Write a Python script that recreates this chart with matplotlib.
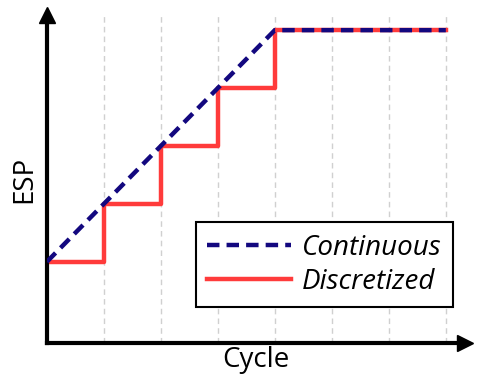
import matplotlib.pyplot as plt

# ===== DATA =====
cycles = [0, 1, 2, 3, 4, 7]
esp = [0, 1, 2, 3, 4, 4]
grid_cycles = [1, 2, 3, 4, 5, 6, 7]

plt.rcParams['font.family'] = ['Open Sans', 'DejaVu Sans']

# ===== FIGURE =====
fig = plt.figure(figsize=(4.78, 3.87), dpi=100)
ax = fig.add_axes([0.098, 0.114, 0.874, 0.847])

for gx in grid_cycles:
    ax.axvline(gx, color='#d0d0d0', lw=1, ls=(0, (4, 3)), zorder=0)

ax.plot(cycles, esp, color='#ff3b3b', lw=3.2, drawstyle='steps-post',
        label='Discretized', zorder=2)
ax.plot(cycles, esp, color='#13087f', lw=3.2, ls=(0, (2.8, 1.6)),
        label='Continuous', zorder=3)

ax.set_xlim(0, 7.33)
ax.set_ylim(-1.40, 4.26)

ax.set_xticks([])
ax.set_yticks([])
for s in ['top', 'right']:
    ax.spines[s].set_visible(False)
for s in ['left', 'bottom']:
    ax.spines[s].set_linewidth(3)
    ax.spines[s].set_capstyle('projecting')

# arrow heads
ax.plot(1, 0, '>k', ms=11, transform=ax.transAxes, clip_on=False)
ax.plot(0, 1, '^k', ms=11, transform=ax.transAxes, clip_on=False)

ax.set_xlabel('Cycle', fontsize=20, labelpad=2)
ax.set_ylabel('ESP', fontsize=20, labelpad=6)

handles, labels = ax.get_legend_handles_labels()
leg = ax.legend(handles[::-1], labels[::-1], loc='lower right',
                bbox_to_anchor=(0.971, 0.11), borderaxespad=0,
                fancybox=False, edgecolor='black', framealpha=1,
                handlelength=3.0, prop={'style': 'italic', 'size': 20},
                borderpad=0.4, labelspacing=0.22, handletextpad=0.4)
leg.get_frame().set_linewidth(1.5)

fig.savefig('out.png', dpi=100)
